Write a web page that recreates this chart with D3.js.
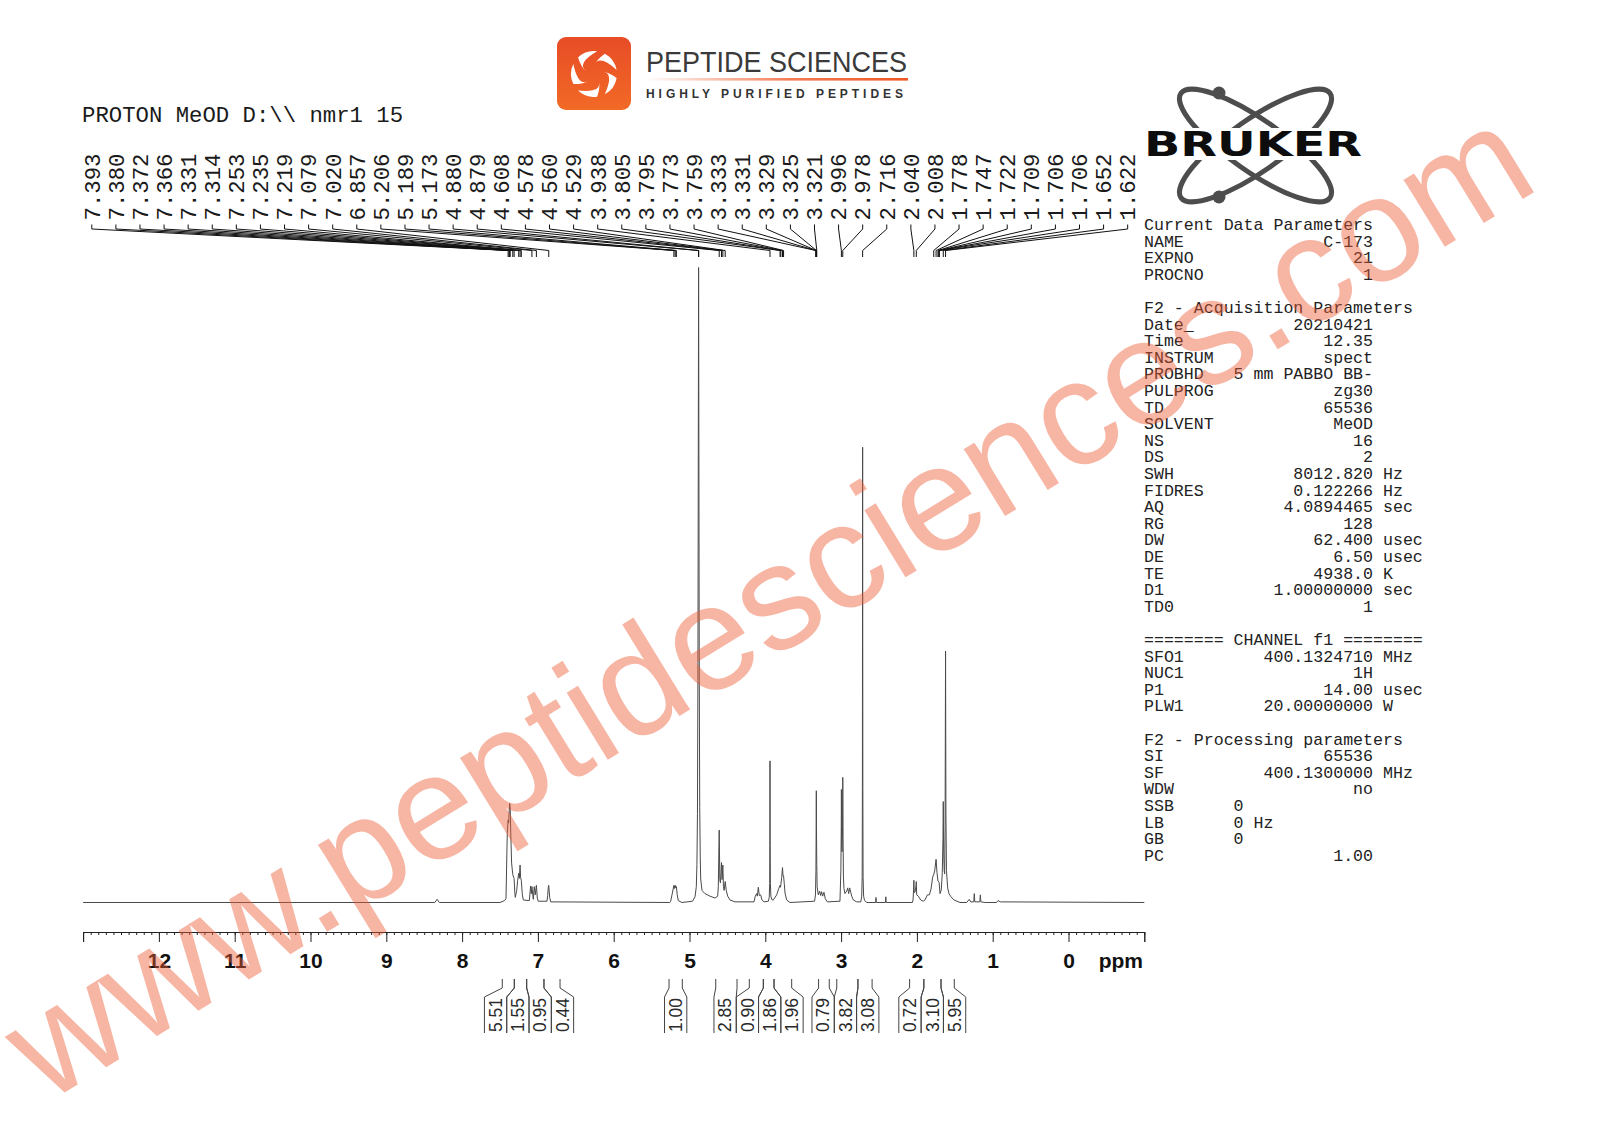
<!DOCTYPE html>
<html>
<head>
<meta charset="utf-8">
<script src="https://d3js.org/d3.v7.min.js"></script>
<style>
  body { margin: 0; background: #fff; }
  svg { display: block; }
</style>
</head>
<body>
<svg id="chart"></svg>
<script>
const W = 1600, H = 1131

// traced 1H spectrum, [ppm, intensity] with the 4.88 solvent line = 100
const spectrum = [
  [13.0, 0], [8.36, 0], [8.33, 0.5], [8.30, 0],
  [7.50, 0], [7.44, 0.3], [7.421, 0.6], [7.404, 10.9], [7.393, 13.0], [7.386, 12.5], [7.378, 14.5], [7.372, 15.6],
  [7.366, 15.0], [7.358, 11.0], [7.347, 6.2], [7.331, 4.4], [7.322, 4.0], [7.314, 3.8], [7.305, 1.6], [7.298, 0.8],
  [7.280, 1.9], [7.267, 3.5], [7.253, 4.6], [7.245, 3.8], [7.235, 5.9], [7.228, 3.9], [7.219, 3.5], [7.206, 1.3], [7.193, 0.4],
  [7.113, 0.3], [7.096, 2.6], [7.087, 1.4], [7.079, 2.5], [7.061, 0.5], [7.048, 2.5], [7.035, 1.2], [7.020, 2.7], [7.008, 0.7], [6.995, 0.2],
  [6.88, 0.2], [6.871, 1.1], [6.863, 2.4], [6.857, 2.7], [6.851, 1.8], [6.845, 0.8], [6.83, 0.1],
  [5.26, 0], [5.248, 0.2], [5.231, 1.2], [5.206, 2.7], [5.197, 2.2], [5.189, 2.7], [5.181, 2.3], [5.173, 2.5], [5.162, 1.2], [5.148, 0.3], [5.10, 0],
  [4.96, 0.2], [4.927, 0.9], [4.910, 2.5], [4.902, 6], [4.895, 14], [4.889, 35], [4.884, 70], [4.880, 100], [4.876, 70], [4.871, 35],
  [4.865, 15], [4.858, 7], [4.852, 3.7], [4.835, 1.9], [4.796, 1.4], [4.73, 1.0], [4.664, 0.7], [4.628, 1.0],
  [4.620, 2.5], [4.608, 11.4], [4.600, 3.6], [4.592, 3.1], [4.578, 6.3], [4.570, 3.6], [4.560, 5.9], [4.552, 2.5], [4.543, 1.9],
  [4.529, 3.3], [4.515, 1.9], [4.496, 1.0], [4.466, 0.4], [4.40, 0.1],
  [4.149, 0.1], [4.132, 1.0], [4.114, 1.4], [4.105, 1.0], [4.092, 2.4], [4.079, 1.1], [4.061, 1.2], [4.044, 0.4], [4.017, 0.1],
  [3.96, 0.2], [3.948, 0.8], [3.942, 3], [3.940, 9], [3.938, 22.3], [3.936, 9], [3.933, 3], [3.926, 0.9], [3.91, 0.4], [3.894, 0.4],
  [3.85, 1.2], [3.823, 2.2], [3.805, 2.7], [3.800, 2.4], [3.795, 2.8], [3.784, 3.9], [3.773, 5.5], [3.766, 4.2], [3.759, 4.2],
  [3.750, 3.0], [3.740, 1.5], [3.718, 0.4], [3.674, 0],
  [3.35, 0.2], [3.338, 1.2], [3.332, 5], [3.329, 12], [3.327, 17.6], [3.325, 12], [3.321, 6], [3.316, 2.5], [3.301, 1.2],
  [3.283, 1.8], [3.270, 1.1], [3.257, 1.7], [3.244, 1.0], [3.226, 1.6], [3.209, 0.6], [3.182, 0.1],
  [3.015, 0.2], [3.003, 5], [2.998, 12], [2.996, 17.8], [2.992, 9], [2.987, 8], [2.981, 12], [2.978, 19.7], [2.974, 10],
  [2.969, 4], [2.962, 2.2], [2.949, 1.4], [2.926, 1.8], [2.913, 2.3], [2.900, 1.4], [2.887, 2.3], [2.873, 1.6], [2.860, 1.0], [2.839, 0.4], [2.794, 0.1],
  [2.74, 0.1], [2.728, 1.0], [2.722, 4], [2.719, 18], [2.716, 71.7], [2.713, 18], [2.710, 4], [2.703, 1.0], [2.69, 0.3], [2.66, 0],
  [2.545, 0], [2.54, 0.8], [2.535, 0], [2.415, 0], [2.41, 0.9], [2.405, 0],
  [2.06, 0], [2.051, 0.4], [2.044, 2], [2.040, 3.5], [2.036, 1.6], [2.025, 1.6], [2.012, 2.6], [2.008, 3.3], [2.003, 1.2],
  [1.981, 1.0], [1.950, 0.4], [1.916, 0.2], [1.893, 0.4], [1.862, 1.2], [1.836, 1.2], [1.814, 2.1], [1.792, 4.0], [1.778, 4.4],
  [1.765, 5.0], [1.747, 6.8], [1.735, 4.7], [1.722, 3.4], [1.709, 3.2], [1.706, 3.1], [1.695, 1.4], [1.678, 2.0], [1.665, 4.7],
  [1.656, 10], [1.652, 15.9], [1.647, 8], [1.640, 5], [1.634, 4.5], [1.628, 12], [1.622, 39.6], [1.617, 14], [1.610, 5],
  [1.594, 2.3], [1.577, 1.4], [1.55, 0.9], [1.511, 0.4], [1.431, 0],
  [1.343, 0], [1.309, 0.5], [1.290, 0.1], [1.250, 0.1], [1.243, 1.4], [1.236, 0.1], [1.170, 0.1], [1.163, 1.2], [1.156, 0.1], [1.10, 0],
  [0.95, 0], [0.93, 0.3], [0.90, 0.1],
  [-1.0, 0]
]

// picked peaks (ppm)
const peakLabels = [7.393, 7.380, 7.372, 7.366, 7.331, 7.314, 7.253, 7.235, 7.219, 7.079, 7.020, 6.857,
  5.206, 5.189, 5.173, 4.880, 4.879, 4.608, 4.578, 4.560, 4.529, 3.938, 3.805, 3.795, 3.773, 3.759,
  3.333, 3.331, 3.329, 3.325, 3.321, 2.996, 2.978, 2.716, 2.040, 2.008, 1.778, 1.747, 1.722, 1.709,
  1.706, 1.706, 1.652, 1.622]

// integral regions (ppm from, ppm to) and their values
const integralRanges = [[7.470, 7.311], [7.311, 7.148], [7.148, 6.920], [6.920, 6.708], [5.270, 5.095],
  [4.654, 4.373], [4.211, 4.026], [4.026, 3.885], [3.885, 3.652], [3.297, 3.156], [3.057, 2.778],
  [2.778, 2.591], [2.096, 1.908], [1.908, 1.682], [1.682, 1.507]]
const integralValues = ['5.51', '1.55', '0.95', '0.44', '1.00', '2.85', '0.90', '1.86', '1.96',
  '0.79', '3.82', '3.08', '0.72', '3.10', '5.95']

const majorTicks = d3.range(-1, 14)
const tickLabels = d3.range(0, 13)

// acquisition parameter listing [name, value, unit]
const params = [
  ['Current Data Parameters'], ['NAME', 'C-173'], ['EXPNO', '21'], ['PROCNO', '1'], [''],
  ['F2 - Acquisition Parameters'], ['Date_', '20210421'], ['Time', '12.35'], ['INSTRUM', 'spect'],
  ['PROBHD', '5 mm PABBO BB-'], ['PULPROG', 'zg30'], ['TD', '65536'], ['SOLVENT', 'MeOD'], ['NS', '16'],
  ['DS', '2'], ['SWH', '8012.820', 'Hz'], ['FIDRES', '0.122266', 'Hz'], ['AQ', '4.0894465', 'sec'],
  ['RG', '128'], ['DW', '62.400', 'usec'], ['DE', '6.50', 'usec'], ['TE', '4938.0', 'K'],
  ['D1', '1.00000000', 'sec'], ['TD0', '1'], [''],
  ['======== CHANNEL f1 ========'], ['SFO1', '400.1324710', 'MHz'], ['NUC1', '1H'], ['P1', '14.00', 'usec'],
  ['PLW1', '20.00000000', 'W'], [''],
  ['F2 - Processing parameters'], ['SI', '65536'], ['SF', '400.1300000', 'MHz'], ['WDW', 'no'],
  ['SSB', '0', '', 'left'], ['LB', '0', 'Hz', 'left'], ['GB', '0', '', 'left'], ['PC', '1.00']
]

const mono = "'Courier New', 'Liberation Mono', monospace"
const sans = "Arial, 'Liberation Sans', sans-serif"

const svg = d3.select('#chart').attr('width', W).attr('height', H)
svg.append('rect').attr('width', W).attr('height', H).attr('fill', '#fff')

const x = d3.scaleLinear().domain([13, -1]).range([83.1, 1144.3])
const y = d3.scaleLinear().domain([0, 100]).range([902.5, 267.5])

// spectrum trace
const line = d3.line().x(d => x(d[0])).y(d => y(d[1]))
svg.append('path')
  .datum(spectrum)
  .attr('d', line)
  .attr('fill', 'none')
  .attr('stroke', '#4a4a4a')
  .attr('stroke-width', 1)

// ppm axis: minor ticks every 0.1, major every 1
const axisY = 932
svg.append('g')
  .attr('transform', `translate(0,${axisY})`)
  .call(d3.axisBottom(x).tickValues(d3.range(-10, 131).map(d => d / 10)).tickSize(3).tickSizeOuter(0).tickFormat(''))
  .call(g => g.select('.domain').remove())
  .call(g => g.selectAll('line').attr('stroke', '#222'))

svg.append('g')
  .attr('transform', `translate(0,${axisY})`)
  .call(d3.axisBottom(x).tickValues(majorTicks).tickSize(10).tickSizeOuter(10)
    .tickFormat(d => tickLabels.includes(d) ? d : ''))
  .call(g => g.selectAll('line').attr('stroke', '#222'))
  .call(g => g.select('.domain').attr('stroke', '#222'))
  .call(g => g.selectAll('text')
    .attr('y', 36).attr('dy', null)
    .attr('fill', '#111')
    .style('font-family', sans).style('font-size', '21px').style('font-weight', 'bold'))

svg.append('text')
  .attr('x', 1143).attr('y', axisY + 36)
  .attr('text-anchor', 'end')
  .style('font-family', sans).style('font-size', '21px').style('font-weight', 'bold')
  .attr('fill', '#111')
  .text('ppm')

// header
svg.append('text')
  .attr('x', 82).attr('y', 122)
  .style('font-family', mono).style('font-size', '22.3px')
  .attr('fill', '#1a1a1a')
  .style('white-space', 'pre')
  .text('PROTON MeOD D:\\\\ nmr1 15')

// peak labels with connectors
const labelX = i => 91.8 + i * 24.09
const connector = d3.line()
const peaks = svg.append('g')
peaks.selectAll('path')
  .data(peakLabels)
  .enter()
  .append('path')
  .attr('d', (d, i) => connector([[labelX(i), 224.5], [labelX(i), 229], [x(d), 250.5], [x(d), 257]]))
  .attr('fill', 'none')
  .attr('stroke', '#111')
  .attr('stroke-width', 1)
peaks.selectAll('text')
  .data(peakLabels)
  .enter()
  .append('text')
  .attr('transform', (d, i) => `translate(${labelX(i)},220.5) rotate(-90)`)
  .attr('dy', '0.35em')
  .style('font-family', mono).style('font-size', '22.3px')
  .attr('fill', '#1a1a1a')
  .text(d => d.toFixed(3))

// integrals: label boxes spread side by side so they do not overlap
const boxW = 22.3
let clusters = integralRanges.map((r, i) => ({ items: [i], c: (x(r[0]) + x(r[1])) / 2 }))
let merged = true
while (merged) {
  merged = false
  for (let k = 0; k < clusters.length - 1; k++) {
    const a = clusters[k], b = clusters[k + 1]
    const aRight = a.c + a.items.length * boxW / 2
    const bLeft = b.c - b.items.length * boxW / 2
    if (aRight > bLeft) {
      const items = a.items.concat(b.items)
      const c = d3.mean(items, i => (x(integralRanges[i][0]) + x(integralRanges[i][1])) / 2)
      clusters.splice(k, 2, { items: items, c: c })
      merged = true
      break
    }
  }
}
const boxLeft = []
for (let cl of clusters) {
  const start = cl.c - cl.items.length * boxW / 2
  cl.items.forEach((i, j) => { boxLeft[i] = start + j * boxW })
}

const ints = svg.append('g')
integralRanges.forEach((r, i) => {
  const xa = x(r[0]), xb = x(r[1])
  const bl = boxLeft[i], br = boxLeft[i] + boxW
  ints.append('path')
    .attr('d', connector([[xa, 979], [xa, 988], [bl, 997], [bl, 1033]]))
    .attr('fill', 'none').attr('stroke', '#444').attr('stroke-width', 1)
  ints.append('path')
    .attr('d', connector([[xb, 979], [xb, 988], [br, 997], [br, 1033]]))
    .attr('fill', 'none').attr('stroke', '#444').attr('stroke-width', 1)
  ints.append('text')
    .attr('transform', `translate(${(bl + br) / 2},1032) rotate(-90)`)
    .attr('dy', '0.36em')
    .style('font-family', sans).style('font-size', '17.5px')
    .attr('fill', '#2a2a2a')
    .text(integralValues[i])
})

// parameter listing
const paramLines = params.map(p => {
  const name = p[0], value = p[1], unit = p[2], mode = p[3]
  if (value === undefined) return name
  let s
  if (mode === 'left') s = name.padEnd(9) + value
  else s = name + ' '.repeat(Math.max(1, 23 - name.length - value.length)) + value
  if (unit) s += ' ' + unit
  return s
})
svg.append('g')
  .selectAll('text')
  .data(paramLines)
  .enter()
  .append('text')
  .attr('x', 1144)
  .attr('y', (d, i) => 230 + i * 16.6)
  .style('font-family', mono).style('font-size', '16.6px')
  .style('white-space', 'pre')
  .attr('fill', '#222')
  .text(d => d)

// Bruker logo
const bruker = svg.append('g')
const bcx = 1255.5, bcy = 145.5
for (let ang of [35, -35]) {
  bruker.append('ellipse')
    .attr('cx', bcx).attr('cy', bcy).attr('rx', 91).attr('ry', 26)
    .attr('transform', `rotate(${ang},${bcx},${bcy})`)
    .attr('fill', 'none').attr('stroke', '#4d4d4d').attr('stroke-width', 5)
}
bruker.append('circle').attr('cx', 1219).attr('cy', 93).attr('r', 6.5).attr('fill', '#4d4d4d')
bruker.append('circle').attr('cx', 1219).attr('cy', 197).attr('r', 6.5).attr('fill', '#4d4d4d')
bruker.append('rect').attr('x', 1140).attr('y', 128).attr('width', 230).attr('height', 32).attr('fill', '#fff')
bruker.append('text')
  .attr('x', 1144).attr('y', 156)
  .attr('textLength', 218).attr('lengthAdjust', 'spacingAndGlyphs')
  .style('font-family', "'DejaVu Sans', sans-serif").style('font-size', '34px').style('font-weight', 'bold')
  .attr('fill', '#0d0d0d')
  .text('BRUKER')

// Peptide Sciences logo
const defs = svg.append('defs')
const og = defs.append('linearGradient').attr('id', 'orangeBox').attr('x1', 0).attr('y1', 0).attr('x2', 0).attr('y2', 1)
og.append('stop').attr('offset', '0%').attr('stop-color', '#e74c27')
og.append('stop').attr('offset', '100%').attr('stop-color', '#f26a26')
const lg = defs.append('linearGradient').attr('id', 'orangeLine').attr('x1', 0).attr('y1', 0).attr('x2', 1).attr('y2', 0)
lg.append('stop').attr('offset', '0%').attr('stop-color', '#f05a28').attr('stop-opacity', 0)
lg.append('stop').attr('offset', '55%').attr('stop-color', '#f05a28').attr('stop-opacity', 0.8)
lg.append('stop').attr('offset', '100%').attr('stop-color', '#ef5626').attr('stop-opacity', 1)

const logo = svg.append('g')
logo.append('rect').attr('x', 557).attr('y', 37).attr('width', 74).attr('height', 73).attr('rx', 9)
  .attr('fill', 'url(#orangeBox)')
const lcx = 594, lcy = 74
const polar = (r, deg) => [lcx + r * Math.cos(deg * Math.PI / 180), lcy + r * Math.sin(deg * Math.PI / 180)]
for (let k = 0; k < 5; k++) {
  const a = k * 72 - 90
  const p0 = polar(8, a), p1 = polar(23, a + 80), p2 = polar(23, a + 28)
  const c1 = polar(21, a + 12), c2 = polar(14, a + 8)
  logo.append('path')
    .attr('d', `M${p0}Q${c1} ${p1}A23 23 0 0 0 ${p2}Q${c2} ${p0}Z`)
    .attr('fill', '#fff')
}
logo.append('text')
  .attr('x', 646).attr('y', 71.7)
  .attr('textLength', 261).attr('lengthAdjust', 'spacingAndGlyphs')
  .style('font-family', sans).style('font-size', '29px')
  .attr('fill', '#3a3a3a')
  .text('PEPTIDE SCIENCES')
logo.append('rect').attr('x', 646).attr('y', 78).attr('width', 262).attr('height', 2.6).attr('fill', 'url(#orangeLine)')
logo.append('text')
  .attr('x', 646).attr('y', 98.3)
  .attr('textLength', 257).attr('lengthAdjust', 'spacing')
  .style('font-family', sans).style('font-size', '12px').style('font-weight', 'bold')
  .attr('fill', '#333')
  .text('HIGHLY PURIFIED PEPTIDES')

// watermark
svg.append('text')
  .attr('transform', 'translate(46,1104) rotate(-31.5)')
  .attr('textLength', 1755).attr('lengthAdjust', 'spacingAndGlyphs')
  .style('font-family', sans).style('font-size', '149px')
  .attr('fill', '#ee5a36').attr('fill-opacity', 0.45)
  .text('www.peptidesciences.com')
</script>
</body>
</html>
